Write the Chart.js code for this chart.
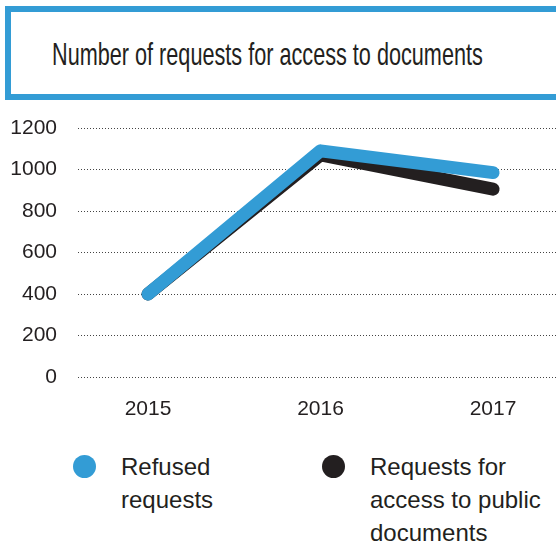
<!DOCTYPE html>
<html>
<head>
<meta charset="utf-8">
<script src="https://cdn.jsdelivr.net/npm/chart.js@4"></script>
<style>
  html, body { margin: 0; padding: 0; background: #fff; }
  body { width: 556px; height: 543px; position: relative; overflow: hidden; }
  .title-box {
    position: absolute; left: 5px; top: 6px; width: 600px; height: 82px;
    border: 6px solid #339cd5; background: #fff;
  }
  .title-box span {
    position: absolute; left: 41px; top: 26px;
    font-family: "Liberation Sans", Arial, sans-serif;
    font-size: 32px; line-height: 32px; color: #231f20; white-space: nowrap;
    transform-origin: 0 0;
  }
  .chart-wrap { position: absolute; left: 0; top: 110px; width: 556px; height: 310px; }
  .legend { position: absolute; top: 0; left: 0; }
  .legend-dot { position: absolute; width: 23px; height: 23px; border-radius: 50%; }
  .legend-text {
    position: absolute; white-space: nowrap;
    font-family: "Liberation Sans", Arial, sans-serif;
    font-size: 24px; line-height: 33px; color: #231f20;
    transform-origin: 0 0;
  }
  .legend-text span { display: inline-block; }
</style>
</head>
<body>
<div class="title-box"><span id="title"></span></div>
<div class="chart-wrap"><canvas id="chart"></canvas></div>
<div class="legend" id="legend"></div>
<script>
  var titleText = 'Number of requests for access to documents';
  var years = [2015, 2016, 2017];
  var yTicks = [0, 200, 400, 600, 800, 1000, 1200];

  var refusedLabel = ['Refused', 'requests'];
  var refused = [400, 1090, 985];

  var publicDocsLabel = ['Requests for', 'access to public', 'documents'];
  var publicDocs = [400, 1070, 905];

  var BLUE = '#339cd5';
  var BLACK = '#231f20';
  var TICK_FONT = { family: '"Liberation Sans", Arial, sans-serif', size: 21 };

  // squeeze a regular font into the narrow look of the headings
  function condense(el, width) {
    el.style.transform = 'scaleX(' + (width / el.offsetWidth) + ')';
  }

  var titleEl = document.getElementById('title');
  titleEl.textContent = titleText;
  condense(titleEl, 431);

  function points(vals) {
    return vals.map(function (v, i) { return { x: years[i], y: v }; });
  }

  var datasets = [
    { label: refusedLabel.join(' '), lines: refusedLabel, data: points(refused), borderColor: BLUE },
    { label: publicDocsLabel.join(' '), lines: publicDocsLabel, data: points(publicDocs), borderColor: BLACK }
  ].map(function (d) {
    return Object.assign(d, {
      borderWidth: 13,
      borderCapStyle: 'round',
      borderJoinStyle: 'round',
      pointRadius: 0,
      fill: false,
      tension: 0
    });
  });

  var ctx = document.getElementById('chart');
  new Chart(ctx, {
    type: 'line',
    data: { datasets: datasets },
    options: {
      responsive: true,
      maintainAspectRatio: false,
      animation: false,
      layout: { padding: { top: 18, right: 0, left: 0, bottom: 0 } },
      plugins: { legend: { display: false }, tooltip: { enabled: false } },
      scales: {
        x: {
          type: 'linear',
          min: 2014.594,
          max: 2017.365,
          afterBuildTicks: function (axis) {
            axis.ticks = years.map(function (y) { return { value: y }; });
          },
          afterFit: function (axis) {
            axis.height = 43;
            axis.paddingLeft = 0;
            axis.paddingRight = 0;
          },
          grid: { display: false, drawTicks: false },
          border: { display: false },
          ticks: {
            padding: 20,
            color: BLACK,
            font: TICK_FONT,
            callback: function (v) { return String(v); }
          }
        },
        y: {
          min: 0,
          max: 1200,
          afterBuildTicks: function (axis) {
            axis.ticks = yTicks.map(function (v) { return { value: v }; });
          },
          afterFit: function (axis) {
            axis.width = 78;
            axis.paddingTop = 0;
            axis.paddingBottom = 0;
          },
          grid: {
            drawTicks: false,
            color: '#444',
            lineWidth: 1
          },
          border: { display: false, dash: [1, 2] },
          ticks: {
            padding: 21,
            color: BLACK,
            font: TICK_FONT,
            callback: function (v) { return String(v); }
          }
        }
      }
    }
  });

  // legend built from dataset labels and colours
  var legend = document.getElementById('legend');
  var legendX = [[73, 121], [322, 370]];
  var probe = null;
  datasets.forEach(function (d, i) {
    var dot = document.createElement('div');
    dot.className = 'legend-dot';
    dot.style.background = d.borderColor;
    dot.style.left = legendX[i][0] + 'px';
    dot.style.top = '455px';
    legend.appendChild(dot);
    var txt = document.createElement('div');
    txt.className = 'legend-text';
    txt.style.left = legendX[i][1] + 'px';
    txt.style.top = '450px';
    txt.innerHTML = d.lines.map(function (l) { return '<span>' + l + '</span>'; }).join('<br>');
    legend.appendChild(txt);
    if (i === 1) probe = txt.children[1];
  });
  // "access to public" sets the squeeze for both legend blocks
  var legendScale = 124 / probe.offsetWidth;
  legend.querySelectorAll('.legend-text').forEach(function (el) {
    el.style.transform = 'scaleX(' + legendScale + ')';
  });
</script>
</body>
</html>
